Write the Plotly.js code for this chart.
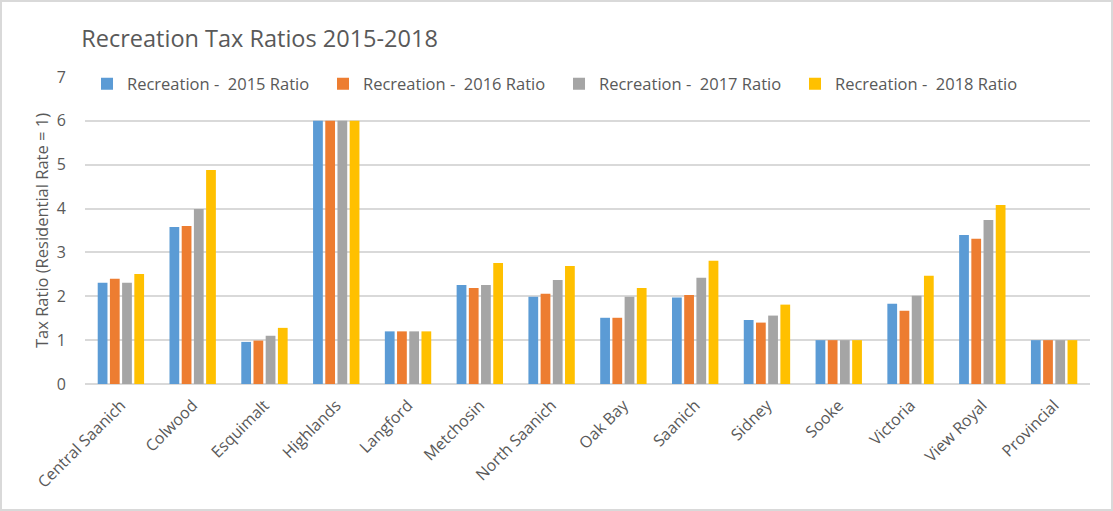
<!DOCTYPE html>
<html>
<head>
<meta charset="utf-8">
<script src="https://cdn.plot.ly/plotly-3.0.1.min.js"></script>
<style>
html,body{margin:0;padding:0;background:#fff;}
#wrap{width:1109px;height:507px;border:2px solid #d9d9d9;}
#chart{width:1109px;height:507px;}
</style>
</head>
<body>
<div id="wrap"><div id="chart"></div></div>
<script>
const categories = ["Central Saanich","Colwood","Esquimalt","Highlands","Langford","Metchosin","North Saanich","Oak Bay","Saanich","Sidney","Sooke","Victoria","View Royal","Provincial"];
const seriesNames = ["Recreation -\u00A0 2015 Ratio","Recreation -\u00A0 2016 Ratio","Recreation -\u00A0 2017 Ratio","Recreation -\u00A0 2018 Ratio"];
const ratio2015 = [2.31,3.58,0.96,6.0,1.2,2.26,1.99,1.51,1.97,1.46,1.0,1.83,3.40,1.0];
const ratio2016 = [2.40,3.60,0.99,6.0,1.2,2.19,2.06,1.51,2.03,1.40,1.0,1.67,3.31,1.0];
const ratio2017 = [2.31,3.99,1.10,6.0,1.2,2.26,2.37,1.99,2.42,1.56,1.0,2.01,3.74,1.0];
const ratio2018 = [2.51,4.88,1.28,6.0,1.2,2.76,2.69,2.19,2.81,1.81,1.0,2.47,4.08,1.0];
const colors = ["#5B9BD5","#ED7D31","#A5A5A5","#FFC000"];
const yTicks = [0,1,2,3,4,5,6,7];

const all = [ratio2015, ratio2016, ratio2017, ratio2018];
const traces = all.map((vals, i) => ({
  type: "bar",
  name: seriesNames[i],
  x: categories,
  y: vals,
  marker: {color: colors[i]},
  hoverinfo: "x+y+name"
}));

const fontFam = "'Open Sans', 'Noto Sans', sans-serif";
const layout = {
  width: 1109, height: 507,
  margin: {l: 83, r: 21, t: 75, b: 125},
  paper_bgcolor: "#fff", plot_bgcolor: "#fff",
  font: {family: fontFam, color: "#595959", size: 15},
  title: {text: "Recreation Tax Ratios 2015-2018", x: 0.0715, xref: "container", xanchor: "left", y: 0.928, yanchor: "middle", yref: "container",
          font: {family: fontFam, size: 23.5, color: "#595959"}},
  barmode: "group",
  bargap: 0.32,
  bargroupgap: 0.2,
  xaxis: {
    tickangle: -45,
    tickfont: {size: 16, color: "#595959"},
    ticklabelstandoff: 8,
    showgrid: false, showline: false, zeroline: false, ticks: ""
  },
  yaxis: {
    range: [0, 7], tickvals: yTicks, ticktext: yTicks.map(String),
    showgrid: true, gridcolor: "#d9d9d9", gridwidth: 1.5,
    zeroline: true, zerolinecolor: "#d9d9d9", zerolinewidth: 1.5,
    showline: false, ticks: "", ticklen: 0,
    ticklabelstandoff: 18,
    tickfont: {size: 16, color: "#595959"},
    title: {text: "Tax Ratio (Residential Rate = 1)", font: {size: 16.5, color: "#595959"}, standoff: 4}
  },
  legend: {
    orientation: "h", x: 0.002, xanchor: "left", y: 0.977, yanchor: "middle",
    bgcolor: "#ffffff", borderwidth: 0,
    entrywidth: 191, entrywidthmode: "pixels",
    font: {size: 16.5, color: "#595959"},
    traceorder: "normal"
  },
  showlegend: true
};

Plotly.newPlot("chart", traces, layout, {displayModeBar: false});
</script>
</body>
</html>
